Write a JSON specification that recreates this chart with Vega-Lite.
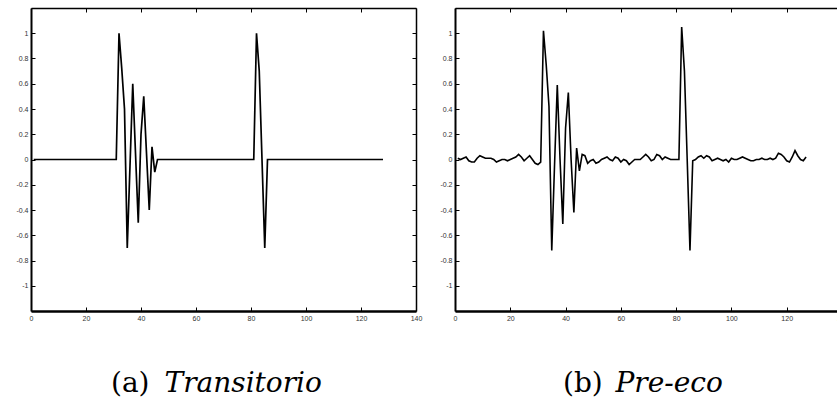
{
  "$schema": "https://vega.github.io/schema/vega-lite/v6.json",
  "background": "white",
  "padding": {"left": 15, "top": 7, "right": 0, "bottom": 0},
  "spacing": 17,
  "config": {
    "view": {"stroke": null},
    "axis": {"grid": false, "domainColor": "black", "tickColor": "black", "labelColor": "#333", "labelFont": "Liberation Sans", "labelFontSize": 7, "labelFlush": false, "labelOverlap": false, "tickSize": -4, "labelPadding": 7}
  },
  "datasets": {
    "a": [
      {"x":1,"y":0},{"x":2,"y":0},{"x":3,"y":0},{"x":4,"y":0},{"x":5,"y":0},{"x":6,"y":0},{"x":7,"y":0},{"x":8,"y":0},{"x":9,"y":0},{"x":10,"y":0},
      {"x":11,"y":0},{"x":12,"y":0},{"x":13,"y":0},{"x":14,"y":0},{"x":15,"y":0},{"x":16,"y":0},{"x":17,"y":0},{"x":18,"y":0},{"x":19,"y":0},{"x":20,"y":0},
      {"x":21,"y":0},{"x":22,"y":0},{"x":23,"y":0},{"x":24,"y":0},{"x":25,"y":0},{"x":26,"y":0},{"x":27,"y":0},{"x":28,"y":0},{"x":29,"y":0},{"x":30,"y":0},
      {"x":31,"y":0},{"x":32,"y":1},{"x":33,"y":0.72},{"x":34,"y":0.4},{"x":35,"y":-0.7},{"x":36,"y":-0.05},{"x":37,"y":0.6},{"x":38,"y":0.05},{"x":39,"y":-0.5},{"x":40,"y":0.2},
      {"x":41,"y":0.5},{"x":42,"y":0.05},{"x":43,"y":-0.4},{"x":44,"y":0.1},{"x":45,"y":-0.1},{"x":46,"y":0},{"x":47,"y":0},{"x":48,"y":0},{"x":49,"y":0},{"x":50,"y":0},
      {"x":51,"y":0},{"x":52,"y":0},{"x":53,"y":0},{"x":54,"y":0},{"x":55,"y":0},{"x":56,"y":0},{"x":57,"y":0},{"x":58,"y":0},{"x":59,"y":0},{"x":60,"y":0},
      {"x":61,"y":0},{"x":62,"y":0},{"x":63,"y":0},{"x":64,"y":0},{"x":65,"y":0},{"x":66,"y":0},{"x":67,"y":0},{"x":68,"y":0},{"x":69,"y":0},{"x":70,"y":0},
      {"x":71,"y":0},{"x":72,"y":0},{"x":73,"y":0},{"x":74,"y":0},{"x":75,"y":0},{"x":76,"y":0},{"x":77,"y":0},{"x":78,"y":0},{"x":79,"y":0},{"x":80,"y":0},
      {"x":81,"y":0},{"x":82,"y":1},{"x":83,"y":0.7},{"x":84,"y":0},{"x":85,"y":-0.7},{"x":86,"y":0},{"x":87,"y":0},{"x":88,"y":0},{"x":89,"y":0},{"x":90,"y":0},
      {"x":91,"y":0},{"x":92,"y":0},{"x":93,"y":0},{"x":94,"y":0},{"x":95,"y":0},{"x":96,"y":0},{"x":97,"y":0},{"x":98,"y":0},{"x":99,"y":0},{"x":100,"y":0},
      {"x":101,"y":0},{"x":102,"y":0},{"x":103,"y":0},{"x":104,"y":0},{"x":105,"y":0},{"x":106,"y":0},{"x":107,"y":0},{"x":108,"y":0},{"x":109,"y":0},{"x":110,"y":0},
      {"x":111,"y":0},{"x":112,"y":0},{"x":113,"y":0},{"x":114,"y":0},{"x":115,"y":0},{"x":116,"y":0},{"x":117,"y":0},{"x":118,"y":0},{"x":119,"y":0},{"x":120,"y":0},
      {"x":121,"y":0},{"x":122,"y":0},{"x":123,"y":0},{"x":124,"y":0},{"x":125,"y":0},{"x":126,"y":0},{"x":127,"y":0},{"x":128,"y":0}
    ],
    "b": [
      {"x":1,"y":0.01},{"x":2,"y":0},{"x":3,"y":0.01},{"x":4,"y":0.02},{"x":5,"y":-0.01},{"x":6,"y":-0.02},{"x":7,"y":-0.02},{"x":8,"y":0.01},{"x":9,"y":0.03},{"x":10,"y":0.02},
      {"x":11,"y":0.01},{"x":12,"y":0.01},{"x":13,"y":0.01},{"x":14,"y":0},{"x":15,"y":-0.02},{"x":16,"y":-0.01},{"x":17,"y":0},{"x":18,"y":0},{"x":19,"y":-0.01},{"x":20,"y":0},
      {"x":21,"y":0.01},{"x":22,"y":0.02},{"x":23,"y":0.04},{"x":24,"y":0.02},{"x":25,"y":-0.01},{"x":26,"y":0.01},{"x":27,"y":0.03},{"x":28,"y":0},{"x":29,"y":-0.03},{"x":30,"y":-0.04},
      {"x":31,"y":-0.02},{"x":32,"y":1.02},{"x":33,"y":0.75},{"x":34,"y":0.42},{"x":35,"y":-0.72},{"x":36,"y":-0.05},{"x":37,"y":0.59},{"x":38,"y":0},{"x":39,"y":-0.51},{"x":40,"y":0.25},
      {"x":41,"y":0.53},{"x":42,"y":0},{"x":43,"y":-0.42},{"x":44,"y":0.09},{"x":45,"y":-0.09},{"x":46,"y":0.04},{"x":47,"y":0.03},{"x":48,"y":-0.03},{"x":49,"y":-0.01},{"x":50,"y":0},
      {"x":51,"y":-0.03},{"x":52,"y":-0.02},{"x":53,"y":0},{"x":54,"y":0.01},{"x":55,"y":0.02},{"x":56,"y":0},{"x":57,"y":-0.01},{"x":58,"y":0.02},{"x":59,"y":0.01},{"x":60,"y":-0.02},
      {"x":61,"y":0},{"x":62,"y":-0.01},{"x":63,"y":-0.04},{"x":64,"y":-0.02},{"x":65,"y":0},{"x":66,"y":0},{"x":67,"y":0},{"x":68,"y":0.02},{"x":69,"y":0.04},{"x":70,"y":0.02},
      {"x":71,"y":-0.01},{"x":72,"y":0},{"x":73,"y":0.04},{"x":74,"y":0.03},{"x":75,"y":0},{"x":76,"y":0.02},{"x":77,"y":0.01},{"x":78,"y":0},{"x":79,"y":0},{"x":80,"y":0},
      {"x":81,"y":0},{"x":82,"y":1.05},{"x":83,"y":0.7},{"x":84,"y":0},{"x":85,"y":-0.72},{"x":86,"y":-0.01},{"x":87,"y":0},{"x":88,"y":0.02},{"x":89,"y":0.03},{"x":90,"y":0.01},
      {"x":91,"y":0.03},{"x":92,"y":0.02},{"x":93,"y":-0.01},{"x":94,"y":0},{"x":95,"y":0.01},{"x":96,"y":0},{"x":97,"y":-0.01},{"x":98,"y":0},{"x":99,"y":-0.02},{"x":100,"y":0.01},
      {"x":101,"y":0},{"x":102,"y":0},{"x":103,"y":0.01},{"x":104,"y":0.02},{"x":105,"y":0.01},{"x":106,"y":0},{"x":107,"y":-0.01},{"x":108,"y":-0.01},{"x":109,"y":0},{"x":110,"y":0},
      {"x":111,"y":0.01},{"x":112,"y":0},{"x":113,"y":0},{"x":114,"y":0.01},{"x":115,"y":0},{"x":116,"y":0.01},{"x":117,"y":0.05},{"x":118,"y":0.04},{"x":119,"y":0.02},{"x":120,"y":-0.01},
      {"x":121,"y":-0.02},{"x":122,"y":0.02},{"x":123,"y":0.07},{"x":124,"y":0.03},{"x":125,"y":0},{"x":126,"y":-0.01},{"x":127,"y":0.02}
    ]
  },
  "hconcat": [
    {
      "width": 385, "height": 303,
      "title": {"text": "(a)", "orient": "bottom", "anchor": "start", "frame": "group", "dx": 80, "dy": -5, "offset": 0, "baseline": "alphabetic", "font": "DejaVu Serif", "fontSize": 28, "fontWeight": "normal", "color": "black"},
      "layer": [
        {
          "data": {"name": "a"},
          "mark": {"type": "line", "color": "black", "strokeWidth": 1.7},
          "encoding": {
            "x": {"field": "x", "type": "quantitative", "scale": {"domain": [0, 140], "nice": false, "zero": false},
                  "axis": {"orient": "bottom", "values": [0,20,40,60,80,100,120,140], "domainWidth": 2.5, "title": "Transitorio", "titleFont": "DejaVu Serif", "titleFontStyle": "italic", "titleFontWeight": "normal", "titleFontSize": 28, "titleColor": "black", "titleX": 133, "titleY": 80, "titleAlign": "left", "titleBaseline": "alphabetic"}},
            "y": {"field": "y", "type": "quantitative", "scale": {"domain": [-1.2, 1.2], "nice": false, "zero": false},
                  "axis": {"orient": "left", "values": [-1,-0.8,-0.6,-0.4,-0.2,0,0.2,0.4,0.6,0.8,1], "labelExpr": "datum.value + ''", "domainWidth": 2, "title": null}}
          }
        },
        {
          "data": {"name": "a"},
          "mark": {"type": "line", "opacity": 0},
          "encoding": {
            "x": {"field": "x", "type": "quantitative", "scale": {"domain": [0, 140], "nice": false, "zero": false},
                  "axis": {"orient": "top", "values": [0,20,40,60,80,100,120,140], "labels": false, "domainWidth": 1.5, "title": null}},
            "y": {"field": "y", "type": "quantitative", "scale": {"domain": [-1.2, 1.2], "nice": false, "zero": false},
                  "axis": {"orient": "right", "values": [-1,-0.8,-0.6,-0.4,-0.2,0,0.2,0.4,0.6,0.8,1], "labels": false, "domainWidth": 1.5, "title": null}}
          }
        }
      ],
      "resolve": {"scale": {"x": "independent", "y": "independent"}}
    },
    {
      "width": 387, "height": 303,
      "title": {"text": "(b)", "orient": "bottom", "anchor": "start", "frame": "group", "dx": 108, "dy": -5, "offset": 0, "baseline": "alphabetic", "font": "DejaVu Serif", "fontSize": 28, "fontWeight": "normal", "color": "black"},
      "layer": [
        {
          "data": {"name": "b"},
          "mark": {"type": "line", "color": "black", "strokeWidth": 1.6},
          "encoding": {
            "x": {"field": "x", "type": "quantitative", "scale": {"domain": [0, 140], "nice": false, "zero": false},
                  "axis": {"orient": "bottom", "values": [0,20,40,60,80,100,120,140], "domainWidth": 2.5, "title": "Pre-eco", "titleFont": "DejaVu Serif", "titleFontStyle": "italic", "titleFontWeight": "normal", "titleFontSize": 28, "titleColor": "black", "titleX": 160, "titleY": 80, "titleAlign": "left", "titleBaseline": "alphabetic"}},
            "y": {"field": "y", "type": "quantitative", "scale": {"domain": [-1.2, 1.2], "nice": false, "zero": false},
                  "axis": {"orient": "left", "values": [-1,-0.8,-0.6,-0.4,-0.2,0,0.2,0.4,0.6,0.8,1], "labelExpr": "datum.value + ''", "domainWidth": 2, "title": null}}
          }
        },
        {
          "data": {"name": "b"},
          "mark": {"type": "line", "opacity": 0},
          "encoding": {
            "x": {"field": "x", "type": "quantitative", "scale": {"domain": [0, 140], "nice": false, "zero": false},
                  "axis": {"orient": "top", "values": [0,20,40,60,80,100,120,140], "labels": false, "domainWidth": 1.5, "title": null}},
            "y": {"field": "y", "type": "quantitative", "scale": {"domain": [-1.2, 1.2], "nice": false, "zero": false},
                  "axis": {"orient": "right", "values": [-1,-0.8,-0.6,-0.4,-0.2,0,0.2,0.4,0.6,0.8,1], "labels": false, "domainWidth": 1.5, "title": null}}
          }
        }
      ],
      "resolve": {"scale": {"x": "independent", "y": "independent"}}
    }
  ]
}
